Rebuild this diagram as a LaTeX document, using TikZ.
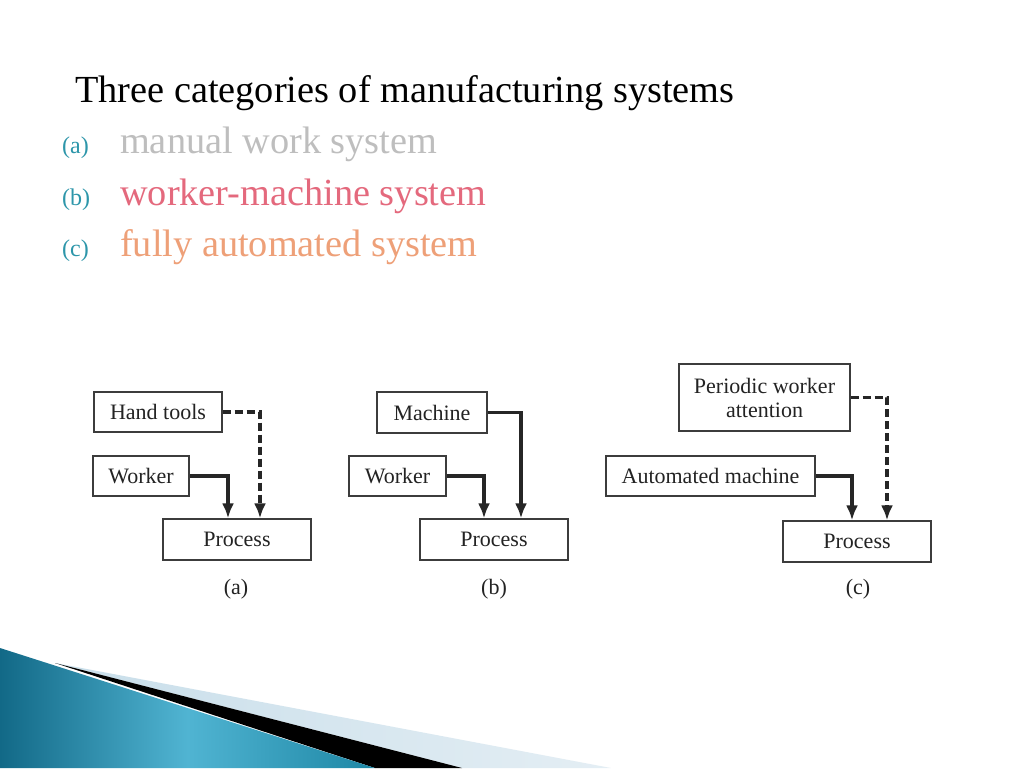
\documentclass[tikz,border=0pt]{standalone}
\usepackage{fontspec}
\setmainfont{Liberation Serif}
\usetikzlibrary{arrows.meta}
\definecolor{tealitem}{RGB}{45,150,170}
\definecolor{grayitem}{RGB}{190,190,190}
\definecolor{reditem}{RGB}{228,105,125}
\definecolor{orangeitem}{RGB}{238,160,120}
\definecolor{boxline}{RGB}{60,60,60}
\definecolor{boxtext}{RGB}{35,35,35}
\definecolor{tealdark}{RGB}{18,105,135}
\definecolor{teallight}{RGB}{80,180,210}
\definecolor{tealmid}{RGB}{30,135,165}
\definecolor{stripelight}{RGB}{200,222,234}
\definecolor{stripelight2}{RGB}{228,238,244}
\tikzset{
  blk/.style={draw=boxline, line width=1.3pt, fill=white, text=boxtext,
    font=\fontsize{22}{24}\selectfont, inner sep=0pt, align=center},
  solidarr/.style={line width=4pt, draw=black!85, -{Latex[length=15pt,width=12pt]}},
  medarr/.style={line width=3.2pt, draw=black!85, -{Latex[length=15pt,width=12pt]}},
  dasharr/.style={line width=3.4pt, draw=black!85, dash pattern=on 8pt off 4pt, -{Latex[length=15pt,width=12pt]}},
  sublabel/.style={font=\fontsize{22}{24}\selectfont, text=boxtext},
  itemlab/.style={font=\fontsize{24}{28}\selectfont, text=tealitem, anchor=base west, inner sep=0pt},
  itemtxt/.style={font=\fontsize{38.3}{44}\selectfont, anchor=base west, inner sep=0pt}
}
\begin{document}
\begin{tikzpicture}[x=1pt,y=-1pt]
\useasboundingbox (0,0) rectangle (1024,768);
\fill[white] (0,0) rectangle (1024,768);
% bottom decoration
\shade[left color=stripelight, right color=stripelight2] (55,663) -- (611,768) -- (462,768) -- cycle;
\fill[black] (55,663) -- (462,768) -- (375,768) -- cycle;
\shade[left color=tealdark, right color=tealmid, middle color=teallight] (0,648) -- (375,768) -- (0,768) -- cycle;
% title and list
\node[itemtxt, text=black] (title) at (75,102) {Three categories of manufacturing systems};
\node[itemlab] (la) at (62,153) {(a)};
\node[itemtxt, text=grayitem] (ta) at (120,153) {manual work system};
\node[itemlab] (lb) at (62,205) {(b)};
\node[itemtxt, text=reditem] (tb) at (120,205) {worker-machine system};
\node[itemlab] (lc) at (62,256) {(c)};
\node[itemtxt, text=orangeitem] (tc) at (120,256) {fully automated system};
% (a)
\node[blk, minimum width=128pt, minimum height=40pt] (ha) at (158,412) {Hand tools};
\node[blk, minimum width=96pt, minimum height=40pt] (wa) at (141,476) {Worker};
\node[blk, minimum width=148pt, minimum height=41pt] (pa) at (237,539.5) {Process};
\node[sublabel] (capa) at (236,589) {(a)};
\draw[solidarr] (wa.east) -| ([xshift=-9pt]pa.north);
\draw[dasharr] (ha.east) -| ([xshift=23pt]pa.north);
% (b)
\node[blk, minimum width=110pt, minimum height=41pt] (mb) at (432,412.5) {Machine};
\node[blk, minimum width=97pt, minimum height=40pt] (wb) at (397.5,476) {Worker};
\node[blk, minimum width=148pt, minimum height=41pt] (pb) at (494,539.5) {Process};
\node[sublabel] (capb) at (494,589) {(b)};
\draw[solidarr] (wb.east) -| ([xshift=-10pt]pb.north);
\draw[medarr] (mb.east) -| ([xshift=27pt]pb.north);
% (c)
\node[blk, minimum width=171pt, minimum height=67pt] (pc1) at (764.5,397.5) {Periodic worker\\attention};
\node[blk, minimum width=209pt, minimum height=40pt] (am) at (710.5,476) {Automated machine};
\node[blk, minimum width=148pt, minimum height=41pt] (pc) at (857,541.5) {Process};
\node[sublabel] (capc) at (858,589) {(c)};
\draw[solidarr] (am.east) -| ([xshift=-5pt]pc.north);
\draw[dasharr] (pc1.east) -| ([xshift=30pt]pc.north);
\end{tikzpicture}
\end{document}
